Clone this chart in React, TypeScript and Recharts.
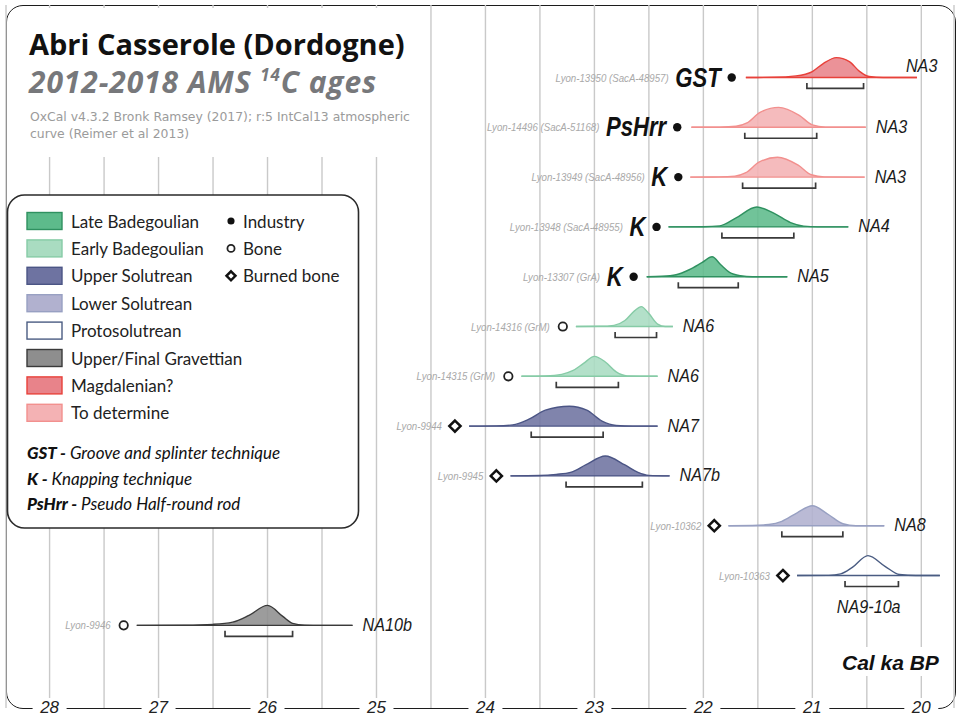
import React from "react";
import { ComposedChart, Area, Line, Scatter, XAxis, YAxis, CartesianGrid } from "recharts";

// one row per dated sample, top to bottom
const sampleIds = [
  "Lyon-13950 (SacA-48957)",
  "Lyon-14496 (SacA-51168)",
  "Lyon-13949 (SacA-48956)",
  "Lyon-13948 (SacA-48955)",
  "Lyon-13307 (GrA)",
  "Lyon-14316 (GrM)",
  "Lyon-14315 (GrM)",
  "Lyon-9944",
  "Lyon-9945",
  "Lyon-10362",
  "Lyon-10363",
  "Lyon-9946",
];
const techniques = ["GST", "PsHrr", "K", "K", "K", "", "", "", "", "", "", ""];
const materials = ["industry", "industry", "industry", "industry", "industry", "bone", "bone", "burned", "burned", "burned", "burned", "bone"];
const cultures = [
  "Magdalenian?", "To determine", "To determine", "Late Badegoulian", "Late Badegoulian",
  "Early Badegoulian", "Early Badegoulian", "Upper Solutrean", "Upper Solutrean",
  "Lower Solutrean", "Protosolutrean", "Upper/Final Gravettian",
];
const levels = ["NA3", "NA3", "NA3", "NA4", "NA5", "NA6", "NA6", "NA7", "NA7b", "NA8", "NA9-10a", "NA10b"];
const levelSpots = ["above", "right", "right", "right", "right", "right", "right", "right", "right", "right", "below", "right"];
const markerAges = [21.74, 22.24, 22.23, 22.43, 22.64, 23.29, 23.79, 24.28, 23.9, 21.9, 21.27, 27.32];
// 95% ranges (cal ka BP)
const ranges95 = [
  [21.05, 20.53], [21.62, 20.96], [21.64, 20.97], [21.83, 21.17], [22.23, 21.68], [22.81, 22.43],
  [23.35, 22.78], [23.58, 22.92], [23.26, 22.56], [21.28, 20.72], [20.7, 20.21], [26.39, 25.77],
];
// probability curves: [age ka, relative density]
const densities: [number, number][][] = [
  [[21.61, 0], [21.35, 0.01], [21.15, 0.08], [21.0, 0.3], [20.9, 0.7], [20.78, 1], [20.66, 0.8], [20.57, 0.32], [20.48, 0.05], [20.35, 0], [20.04, 0]],
  [[22.11, 0], [21.85, 0.01], [21.7, 0.05], [21.6, 0.22], [21.48, 0.75], [21.31, 1], [21.12, 0.6], [21.0, 0.12], [20.88, 0.01], [20.51, 0]],
  [[22.12, 0], [21.86, 0.01], [21.71, 0.05], [21.61, 0.22], [21.49, 0.75], [21.32, 1], [21.13, 0.6], [21.01, 0.12], [20.89, 0.01], [20.52, 0]],
  [[22.32, 0], [22.0, 0.01], [21.85, 0.05], [21.7, 0.45], [21.51, 1], [21.35, 0.68], [21.2, 0.22], [21.08, 0.04], [20.95, 0], [20.67, 0]],
  [[22.52, 0], [22.38, 0.02], [22.25, 0.1], [22.13, 0.35], [22.01, 0.72], [21.92, 1], [21.84, 0.6], [21.76, 0.22], [21.66, 0.05], [21.55, 0], [21.23, 0]],
  [[23.17, 0], [22.95, 0.01], [22.82, 0.06], [22.72, 0.3], [22.63, 0.8], [22.57, 1], [22.5, 0.65], [22.42, 0.12], [22.35, 0], [22.28, 0]],
  [[23.67, 0], [23.45, 0.02], [23.3, 0.1], [23.2, 0.28], [23.1, 0.65], [23.0, 1], [22.9, 0.72], [22.8, 0.22], [22.7, 0.02], [22.42, 0]],
  [[24.15, 0], [23.9, 0.01], [23.75, 0.06], [23.6, 0.35], [23.45, 0.8], [23.23, 1], [23.07, 0.8], [22.93, 0.25], [22.8, 0.03], [22.65, 0], [22.42, 0]],
  [[23.77, 0], [23.5, 0.02], [23.35, 0.08], [23.22, 0.18], [23.08, 0.55], [22.9, 1], [22.72, 0.55], [22.6, 0.18], [22.5, 0.03], [22.31, 0]],
  [[21.77, 0], [21.55, 0.01], [21.4, 0.06], [21.28, 0.22], [21.14, 0.65], [21.0, 1], [20.85, 0.55], [20.72, 0.1], [20.6, 0], [20.34, 0]],
  [[21.14, 0], [20.85, 0.01], [20.74, 0.08], [20.63, 0.42], [20.49, 1], [20.33, 0.45], [20.2, 0.05], [20.05, 0], [19.83, 0]],
  [[27.2, 0], [26.75, 0.01], [26.5, 0.05], [26.32, 0.16], [26.17, 0.5], [26.0, 1], [25.86, 0.45], [25.77, 0.1], [25.66, 0.01], [25.5, 0], [25.22, 0]],
];

const cultureNames = [
  "Late Badegoulian", "Early Badegoulian", "Upper Solutrean", "Lower Solutrean",
  "Protosolutrean", "Upper/Final Gravettian", "Magdalenian?", "To determine",
];
const cultureFills = ["#5dbb8b", "#a9dcc1", "#6e73a1", "#b1b1cf", "#ffffff", "#8e8e8e", "#e8838a", "#f4b2b4"];
const cultureStrokes = ["#2f9160", "#86cba6", "#4b5585", "#98a0c2", "#4a5c82", "#3a3a3a", "#e8413a", "#f2908e"];
const materialNames = [["industry", "Industry"], ["bone", "Bone"], ["burned", "Burned bone"]];
const abbreviations = [
  ["GST", "Groove and splinter technique"],
  ["K", "Knapping technique"],
  ["PsHrr", "Pseudo Half-round rod"],
];
const ageTicks = [28, 27.5, 27, 26.5, 26, 25.5, 25, 24.5, 24, 23.5, 23, 22.5, 22, 21.5, 21, 20.5, 20];

const SANS = "'Liberation Sans', Arial, sans-serif";
const PEAK = 0.4; // row units
const ci = (name: string) => cultureNames.indexOf(name);

function Glyph({ kind, x, y, s = 1 }: { kind: string; x: number; y: number; s?: number }) {
  if (kind === "industry") return <circle cx={x} cy={y} r={4.2 * s} fill="#111" />;
  if (kind === "bone") return <circle cx={x} cy={y} r={4.2 * s} fill="#fff" stroke="#222" strokeWidth={1.8} />;
  const d = 5.6 * s;
  return <path d={`M${x},${y - d}L${x + d},${y}L${x},${y + d}L${x - d},${y}Z`} fill="#fff" stroke="#111" strokeWidth={2.5} />;
}

const renderSample = (props: any) => {
  const { cx, cy, payload } = props;
  const i = payload.idx;
  const tech = techniques[i];
  return (
    <g>
      <Glyph kind={materials[i]} x={cx} y={cy} />
      <g transform={`translate(${cx - (tech ? 11 : 13)},${cy}) scale(0.82,1)`}>
        <text x={0} y={0} textAnchor="end">
          <tspan dy={4} fontFamily={SANS} fontStyle="italic" fontSize={11.8} fill="#a9a9a9">{sampleIds[i]}</tspan>
          {tech ? (
            <tspan dx={8} dy={5} fontFamily={SANS} fontStyle="italic" fontWeight={700} fontSize={27} fill="#111">{tech}</tspan>
          ) : null}
        </text>
      </g>
    </g>
  );
};

const renderLevel = (props: any) => {
  const { cx, cy, payload } = props;
  const i = payload.idx;
  const spot = levelSpots[i];
  let x = cx + 10;
  let y = cy - 1;
  let anchor: "start" | "middle" = "start";
  if (spot === "above") {
    x = cx - 11;
    y = cy - 12;
  } else if (spot === "below") {
    x = cx - 3;
    y = cy + 31;
    anchor = "middle";
  }
  return (
    <g transform={`translate(${x},${y}) scale(0.85,1)`}>
      <text x={0} y={0} textAnchor={anchor} dominantBaseline="central" fontFamily={SANS} fontStyle="italic" fontSize={19} fill="#1a1a1a">
        {levels[i]}
      </text>
    </g>
  );
};

const AgeTick = (props: any) => {
  const { x, y, payload } = props;
  const v = payload.value;
  if (!Number.isInteger(v)) return <g />;
  return (
    <g>
      <rect x={x - 17} y={y - 10} width={34} height={20} fill="#fff" />
      <text x={x} y={y - 1} textAnchor="middle" dominantBaseline="central" fontFamily={SANS} fontStyle="italic" fontSize={17} fill="#222">
        {v}
      </text>
    </g>
  );
};

export default function App() {
  const markerData = markerAges.map((a, i) => ({ x: a, y: i, idx: i }));
  const levelData = densities.map((pts, i) => ({
    x: levelSpots[i] === "below" ? (ranges95[i][0] + ranges95[i][1]) / 2 : pts[pts.length - 1][0],
    y: i,
    idx: i,
  }));

  return (
    <div style={{ position: "absolute", left: 0, top: 0, width: 960, height: 716, background: "#fff", overflow: "hidden" }}>
      <div
        style={{
          position: "absolute", left: 6, top: 5, width: 950, height: 704, boxSizing: "border-box",
          border: "1.6px solid #1c1c1c", borderRadius: 17,
        }}
      />
      <ComposedChart width={960} height={730} margin={{ top: 5, right: 6, bottom: 2, left: 6 }}>
        <CartesianGrid horizontal={false} stroke="#c9c9c9" strokeWidth={1.4} />
        <XAxis
          type="number"
          dataKey="x"
          domain={[19.7, 28.4]}
          reversed
          allowDataOverflow
          ticks={ageTicks}
          interval={0}
          height={20}
          axisLine={false}
          tickLine={false}
          tickSize={0}
          tickMargin={0}
          tick={<AgeTick />}
        />
        <YAxis type="number" dataKey="y" domain={[-1.456, 12.66]} reversed allowDataOverflow hide />
        {densities.map((pts, i) => {
          const c = ci(cultures[i]);
          return (
            <Area
              key={`a${i}`}
              data={pts.map(([a, h]) => ({ x: a, v: [i, i - PEAK * h] }))}
              dataKey="v"
              type="monotone"
              fill={cultureFills[c]}
              fillOpacity={0.88}
              stroke={cultureStrokes[c]}
              strokeWidth={1.4}
              dot={false}
              activeDot={false}
              isAnimationActive={false}
            />
          );
        })}
        {ranges95.map(([a, b], i) => (
          <Line
            key={`r${i}`}
            data={[
              { x: a, y: i + 0.11 },
              { x: a, y: i + 0.22 },
              { x: b, y: i + 0.22 },
              { x: b, y: i + 0.11 },
            ]}
            dataKey="y"
            type="linear"
            stroke="#3a3a3a"
            strokeWidth={1.7}
            dot={false}
            activeDot={false}
            isAnimationActive={false}
          />
        ))}
        <Scatter data={markerData} shape={renderSample} isAnimationActive={false} />
        <Scatter data={levelData} shape={renderLevel} isAnimationActive={false} />
      </ComposedChart>

      <svg width={960} height={716} style={{ position: "absolute", left: 0, top: 0, pointerEvents: "none" }}>
        <rect x={30} y={8} width={395} height={149} fill="#fff" />
        <text x={29} y={55} fontFamily="'Open Sans', sans-serif" fontWeight={700} fontSize={29} fill="#111">
          Abri Casserole (Dordogne)
        </text>
        <text x={29} y={93} fontFamily="'Open Sans', sans-serif" fontWeight={700} fontStyle="italic" fontSize={30} letterSpacing={0.9} fill="#77787b">
          2012-2018 AMS <tspan fontSize={17} dy={-12}>14</tspan>
          <tspan dy={12}>C ages</tspan>
        </text>
        <text x={30} y={121} fontFamily="'DejaVu Sans', sans-serif" fontSize={12.4} fill="#9b9b9b">
          OxCal v4.3.2 Bronk Ramsey (2017); r:5 IntCal13 atmospheric
        </text>
        <text x={30} y={138} fontFamily="'DejaVu Sans', sans-serif" fontSize={12.4} fill="#9b9b9b">
          curve (Reimer et al 2013)
        </text>

        <rect x={7.5} y={195} width={351} height={333} rx={17} fill="#fff" stroke="#2a2a2a" strokeWidth={1.6} />
        {cultureNames.map((name, k) => {
          const cy = 221 + k * 27.4;
          return (
            <g key={name}>
              <rect x={27} y={cy - 8.5} width={35} height={17} fill={cultureFills[k]} stroke={cultureStrokes[k]} strokeWidth={1.4} />
              <text x={71} y={cy} dominantBaseline="central" fontFamily="Lato, sans-serif" fontSize={17} fill="#222">
                {name}
              </text>
            </g>
          );
        })}
        {materialNames.map(([kind, label], k) => {
          const cy = 221 + k * 27.4;
          return (
            <g key={kind}>
              <Glyph kind={kind} x={231} y={cy} s={kind === "burned" ? 0.8 : 0.85} />
              <text x={243} y={cy} dominantBaseline="central" fontFamily="Lato, sans-serif" fontSize={17} fill="#222">
                {label}
              </text>
            </g>
          );
        })}
        {abbreviations.map(([abbr, desc], k) => (
          <text key={abbr} x={27} y={452 + k * 25.5} dominantBaseline="central" fontFamily="Lato, sans-serif" fontStyle="italic" fontSize={17} fill="#111">
            <tspan fontWeight={900}>{abbr}</tspan>
            <tspan fontWeight={900}> -</tspan>
            <tspan> {desc}</tspan>
          </text>
        ))}

        <rect x={838} y={647} width={108} height={29} fill="#fff" />
        <text x={842} y={662} dominantBaseline="central" fontFamily={SANS} fontWeight={700} fontStyle="italic" fontSize={21} fill="#111">
          Cal ka BP
        </text>
      </svg>
    </div>
  );
}
